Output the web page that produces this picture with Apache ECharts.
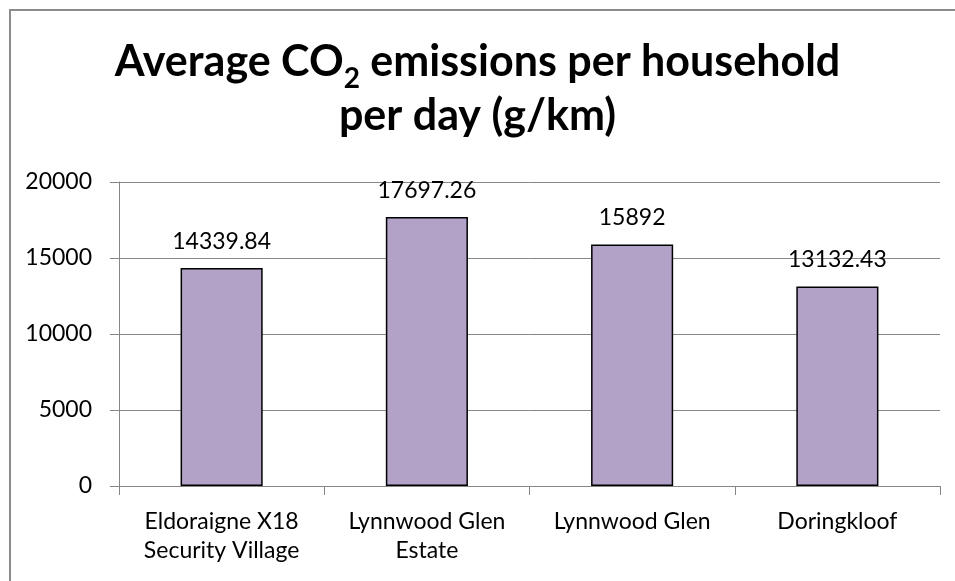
<!DOCTYPE html>
<html>
<head>
<meta charset="utf-8">
<script src="https://cdn.jsdelivr.net/npm/echarts@6/dist/echarts.min.js"></script>
<style>html,body{margin:0;padding:0;background:#fff}#c{width:955px;height:581px}</style>
</head>
<body>
<div id="c"></div>
<script>
const categories = ['Eldoraigne X18\nSecurity Village', 'Lynnwood Glen\nEstate', 'Lynnwood Glen', 'Doringkloof'];
const values = [14339.84, 17697.26, 15892, 13132.43];
const yTicks = [0, 5000, 10000, 15000, 20000];

const chart = echarts.init(document.getElementById('c'), null, {renderer: 'canvas'});
const FONT = 'Lato';
chart.setOption({
  backgroundColor: '#fff',
  animation: false,
  graphic: [{
    type: 'rect', shape: {x: 10, y: 10, width: 960, height: 600},
    style: {fill: 'none', stroke: '#8c8c8c', lineWidth: 2}, silent: true
  }],
  title: {
    left: 'center', top: 30,
    text: '{t|Average CO}{s|2}{t| emissions per household}\n{t|per day (g/km)}',
    textStyle: {
      rich: {
        t: {fontFamily: FONT, fontWeight: 'bold', fontSize: 43, lineHeight: 54, color: '#000'},
        s: {fontFamily: FONT, fontWeight: 'bold', fontSize: 28, lineHeight: 20, padding: [34, 0, 0, 0], color: '#000'}
      }
    }
  },
  grid: {left: 119, right: 15, top: 182, bottom: 95},
  xAxis: {
    type: 'category', data: categories,
    axisLine: {lineStyle: {color: '#868686', width: 1}},
    axisTick: {show: true, length: 9, lineStyle: {color: '#868686'}},
    axisLabel: {fontFamily: FONT, fontSize: 23, color: '#000', lineHeight: 29, margin: 21, interval: 0}
  },
  yAxis: {
    type: 'value', min: yTicks[0], max: yTicks[yTicks.length - 1], interval: 5000,
    axisLine: {show: true, lineStyle: {color: '#868686', width: 1}},
    axisTick: {show: true, length: 9, lineStyle: {color: '#868686'}},
    axisLabel: {fontFamily: FONT, fontSize: 23, color: '#000', margin: 27, formatter: v => String(v)},
    splitLine: {lineStyle: {color: '#868686', width: 1}}
  },
  series: [{
    type: 'bar', data: values, barWidth: '40%',
    itemStyle: {color: '#B3A2C7', borderColor: '#000', borderWidth: 1.5},
    label: {show: true, position: 'top', distance: 15, fontFamily: FONT, fontSize: 23, color: '#000',
      formatter: p => String(p.value)}
  }]
});
</script>
</body>
</html>
